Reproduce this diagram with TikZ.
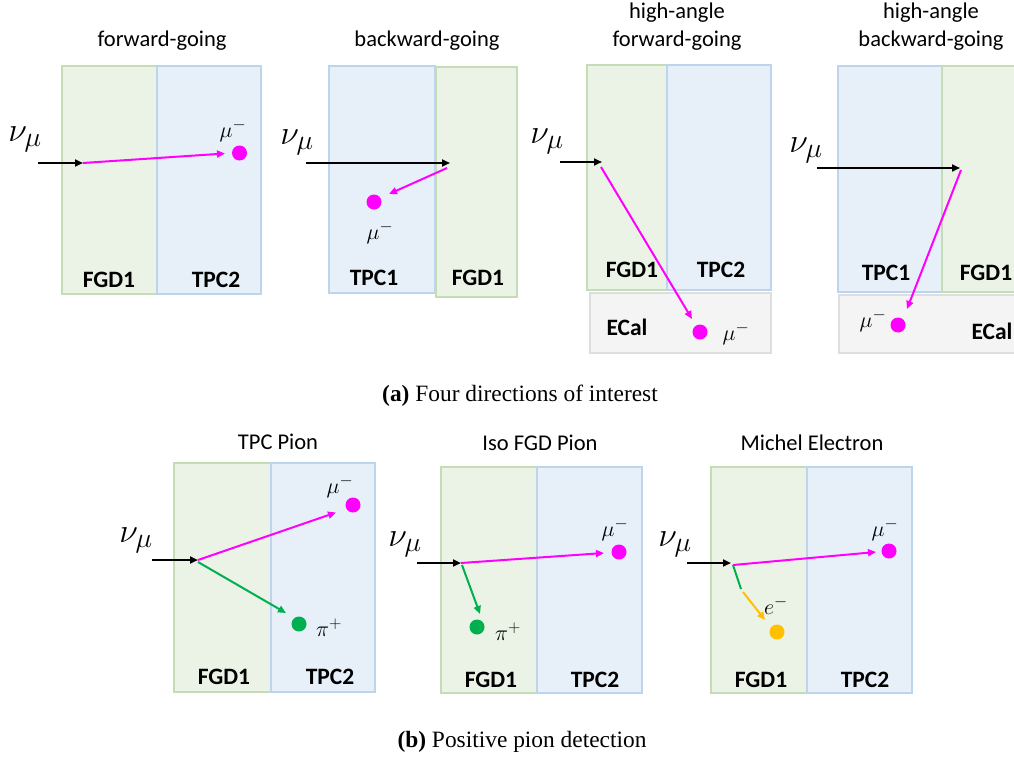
\RequirePackage{fix-cm}
\documentclass[tikz,border=0pt]{standalone}
\usepackage{fontspec}
\setmainfont{Carlito}
\newfontfamily\capfont{Liberation Serif}
\usetikzlibrary{arrows.meta}

\definecolor{fgdfill}{HTML}{EBF3E6}
\definecolor{fgdline}{HTML}{C5DDB5}
\definecolor{tpcfill}{HTML}{E7F0F9}
\definecolor{tpcline}{HTML}{BCD5EC}
\definecolor{ecalfill}{HTML}{F4F4F4}
\definecolor{ecalline}{HTML}{DEDEDE}
\definecolor{mumag}{HTML}{FF00FF}
\definecolor{pigreen}{HTML}{00B050}
\definecolor{eorange}{HTML}{FFC000}

% neutrino symbol with a large subscript
\newcommand\numu{$\nu_{\mbox{\fontsize{28}{28}\selectfont$\mu$}}$}
% particle symbol with a large charge superscript
\newcommand\chg[2]{$#1^{\mbox{\fontsize{17}{17}\selectfont$#2$}}$}

\tikzset{
  fgdbox/.style={fill=fgdfill, draw=fgdline, line width=1.1pt},
  tpcbox/.style={fill=tpcfill, draw=tpcline, line width=1.1pt},
  ecalbox/.style={fill=ecalfill, draw=ecalline, line width=1.1pt},
  paneltitle/.style={font=\fontsize{22.5}{28}\selectfont, align=center, inner sep=0pt},
  det/.style={font=\fontsize{23.5}{23.5}\selectfont\bfseries, inner sep=0pt},
  nulab/.style={font=\fontsize{34}{34}\selectfont, inner sep=0pt},
  plab/.style={font=\fontsize{22}{22}\selectfont, inner sep=0pt},
  dotm/.style={circle, fill=mumag, minimum size=15pt, inner sep=0pt},
  dotg/.style={circle, fill=pigreen, minimum size=15pt, inner sep=0pt},
  doto/.style={circle, fill=eorange, minimum size=15pt, inner sep=0pt},
  arrowtip/.style={-{Triangle[length=8pt,width=7pt]}},
  nuarrow/.style={arrowtip, black, line width=2pt},
  muarrow/.style={arrowtip, mumag, line width=2pt},
  piarrow/.style={arrowtip, pigreen, line width=2pt},
  earrow/.style={arrowtip, eorange, line width=2pt},
  captext/.style={font=\capfont\fontsize{23.4}{23.4}\selectfont, inner sep=0pt}
}

\begin{document}
\begin{tikzpicture}[x=1pt, y=-1pt]
\useasboundingbox (0,0) rectangle (1014,760);
\clip (0,0) rectangle (1014,760);

% ---------- forward-going ----------
\node[paneltitle] (t1) at (162,41) {forward-going};
\draw[fgdbox] (62,66) rectangle (157,294);
\draw[tpcbox] (157,66) rectangle (261,294);
\node[det] (f1) at (109,280) {FGD1};
\node[det] (p1) at (216,280) {TPC2};
\node[nulab] (nu1) at (25,139) {\numu};
\coordinate (s1) at (38,163);
\coordinate (v1) at (83,163);
\node[dotm] (m1) at (239.5,153) {};
\node[plab] (ml1) at (233,131) {\chg{\mu}{-}};
\coordinate (mt1) at (225,153.5);
\draw[muarrow] (v1) -- (mt1);
\draw[nuarrow] (s1) -- (v1);

% ---------- backward-going ----------
\node[paneltitle] (t2) at (427,41) {backward-going};
\draw[tpcbox] (329,66) rectangle (435,293);
\draw[fgdbox] (436,67) rectangle (517,297);
\node[det] (p2) at (374,278) {TPC1};
\node[det] (f2) at (478,278) {FGD1};
\node[nulab] (nu2) at (297,142) {\numu};
\coordinate (s2) at (306,163);
\coordinate (v2) at (450,163);
\coordinate (vb2) at (447,168);
\node[dotm] (m2) at (374,202) {};
\node[plab] (ml2) at (380,233) {\chg{\mu}{-}};
\coordinate (mt2) at (389,194);
\draw[nuarrow] (s2) -- (v2);
\draw[muarrow] (vb2) -- (mt2);

% ---------- high-angle forward-going ----------
\node[paneltitle] (t3) at (677,27) {high-angle\\forward-going};
\draw[fgdbox] (587,65) rectangle (667,290);
\draw[tpcbox] (667,65) rectangle (771,290);
\draw[ecalbox] (590,293) rectangle (771,353);
\node[det] (f3) at (632,270) {FGD1};
\node[det] (p3) at (721,270) {TPC2};
\node[det] (e3) at (627,327) {ECal};
\node[nulab] (nu3) at (547,141) {\numu};
\coordinate (s3) at (560,162);
\coordinate (v3) at (602,162);
\coordinate (vb3) at (601,167);
\node[dotm] (m3) at (700,332) {};
\node[plab] (ml3) at (736,334) {\chg{\mu}{-}};
\coordinate (mt3) at (692,319);
\draw[nuarrow] (s3) -- (v3);
\draw[muarrow] (vb3) -- (mt3);

% ---------- high-angle backward-going ----------
\node[paneltitle] (t4) at (931,27) {high-angle\\backward-going};
\draw[tpcbox] (838,66) rectangle (942,292);
\draw[fgdbox] (942,66) rectangle (1030,292);
\draw[ecalbox] (839,295) rectangle (1030,353);
\node[det] (p4) at (886,273) {TPC1};
\node[det] (f4) at (986,273) {FGD1};
\node[det] (e4) at (992,331) {ECal};
\node[nulab] (nu4) at (806,150) {\numu};
\coordinate (s4) at (817,168);
\coordinate (v4) at (960,168);
\coordinate (vb4) at (961,170);
\node[dotm] (m4) at (898,325) {};
\node[plab] (ml4) at (873,321) {\chg{\mu}{-}};
\coordinate (mt4) at (907,309);
\draw[nuarrow] (s4) -- (v4);
\draw[muarrow] (vb4) -- (mt4);

\node[captext] (capa) at (520,396) {\textbf{(a)} Four directions of interest};

% ---------- TPC pion ----------
\node[paneltitle] (t5) at (278,442) {TPC Pion};
\draw[fgdbox] (174,463) rectangle (271,692);
\draw[tpcbox] (271,463) rectangle (375,692);
\node[det] (f5) at (224,677) {FGD1};
\node[det] (p5) at (330,677) {TPC2};
\node[nulab] (nu5) at (136,540) {\numu};
\coordinate (s5) at (152,560);
\coordinate (v5) at (198,560);
\coordinate (vg5) at (198,562);
\node[dotm] (m5) at (353,505) {};
\node[plab] (ml5) at (340,487) {\chg{\mu}{-}};
\coordinate (mt5) at (336,512.5);
\node[dotg] (g5) at (299,624) {};
\node[plab] (gl5) at (329,628) {\chg{\pi}{+}};
\coordinate (gt5) at (286,613);
\draw[muarrow] (v5) -- (mt5);
\draw[piarrow] (vg5) -- (gt5);
\draw[nuarrow] (s5) -- (v5);

% ---------- Iso FGD pion ----------
\node[paneltitle] (t6) at (540,443) {Iso FGD Pion};
\draw[fgdbox] (441,467) rectangle (537,693);
\draw[tpcbox] (537,467) rectangle (642,693);
\node[det] (f6) at (491,680) {FGD1};
\node[det] (p6) at (595,680) {TPC2};
\node[nulab] (nu6) at (405,544) {\numu};
\coordinate (s6) at (417,563);
\coordinate (v6) at (461,563);
\coordinate (vg6) at (462,565);
\node[dotm] (m6) at (619,552) {};
\node[plab] (ml6) at (615,530) {\chg{\mu}{-}};
\coordinate (mt6) at (604,553);
\node[dotg] (g6) at (477,627) {};
\node[plab] (gl6) at (508,632) {\chg{\pi}{+}};
\coordinate (gt6) at (480,614);
\draw[muarrow] (v6) -- (mt6);
\draw[piarrow] (vg6) -- (gt6);
\draw[nuarrow] (s6) -- (v6);

% ---------- Michel electron ----------
\node[paneltitle] (t7) at (812,443) {Michel Electron};
\draw[fgdbox] (711,467) rectangle (807,693);
\draw[tpcbox] (807,467) rectangle (912,693);
\node[det] (f7) at (761,680) {FGD1};
\node[det] (p7) at (865,680) {TPC2};
\node[nulab] (nu7) at (675,544) {\numu};
\coordinate (s7) at (687,563);
\coordinate (v7) at (731,563);
\coordinate (vg7) at (733,565);
\node[dotm] (m7) at (889,551) {};
\node[plab] (ml7) at (885,530) {\chg{\mu}{-}};
\coordinate (mt7) at (876,552);
\coordinate (dk7) at (741,589);
\coordinate (ds7) at (743,592);
\node[doto] (o7) at (777,632) {};
\node[plab] (ol7) at (776,606) {\chg{e}{-}};
\coordinate (ot7) at (765,620);
\draw[muarrow] (vg7) -- (mt7);
\draw[pigreen, line width=2pt] (vg7) -- (dk7);
\draw[earrow] (ds7) -- (ot7);
\draw[nuarrow] (s7) -- (v7);

\node[captext] (capb) at (522,742) {\textbf{(b)} Positive pion detection};
\end{tikzpicture}
\end{document}
